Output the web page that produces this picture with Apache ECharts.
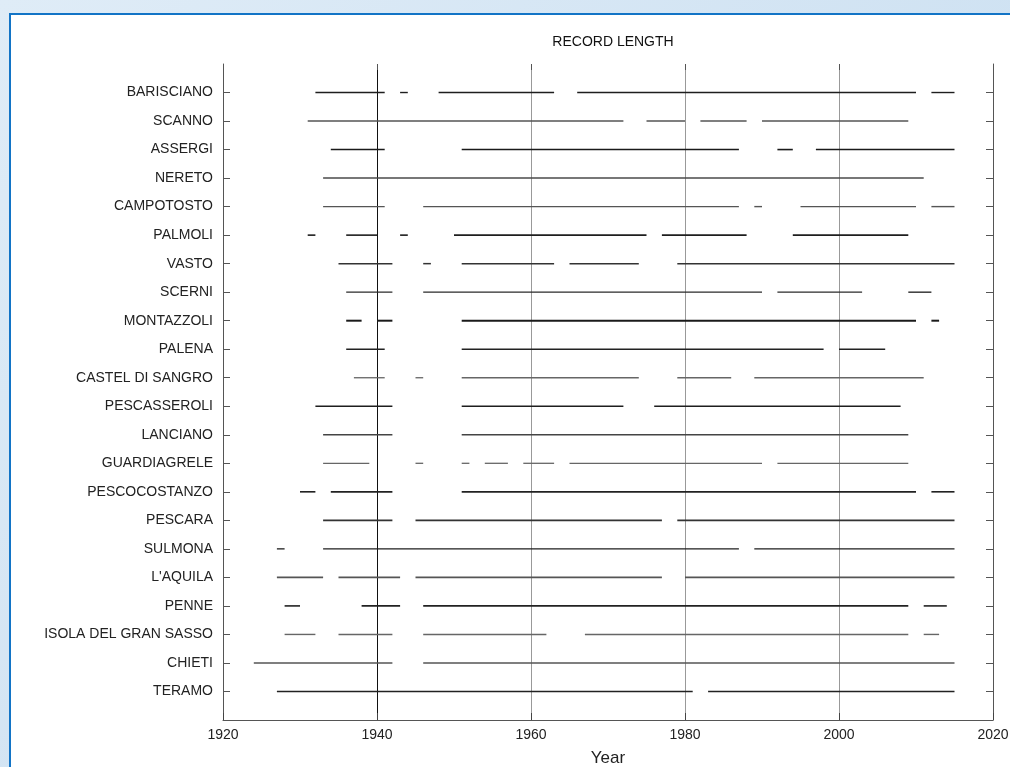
<!DOCTYPE html>
<html>
<head>
<meta charset="utf-8">
<script src="https://cdn.jsdelivr.net/npm/echarts@6/dist/echarts.min.js"></script>
<style>
html,body{margin:0;padding:0;width:1010px;height:767px;overflow:hidden;}
body{background:linear-gradient(135deg,#dfecf7 0%,#c4dbef 100%);}
#frame{position:absolute;left:9px;top:13px;width:1010px;height:800px;background:#fff;border-left:2px solid #1274c6;border-top:2px solid #1274c6;}
#chart{position:absolute;left:0;top:0;width:1010px;height:767px;}
</style>
</head>
<body>
<div id="frame"></div>
<div id="chart"></div>
<script>
// Stations (top to bottom)
const stations = ["BARISCIANO","SCANNO","ASSERGI","NERETO","CAMPOTOSTO","PALMOLI","VASTO","SCERNI","MONTAZZOLI","PALENA","CASTEL DI SANGRO","PESCASSEROLI","LANCIANO","GUARDIAGRELE","PESCOCOSTANZO","PESCARA","SULMONA","L'AQUILA","PENNE","ISOLA DEL GRAN SASSO","CHIETI","TERAMO"];

// Record periods per station [startYear, endYear]
const BARISCIANO = [[1932,1941],[1943,1944],[1948,1963],[1966,2010],[2012,2015]];
const SCANNO = [[1931,1972],[1975,1980],[1982,1988],[1990,2009]];
const ASSERGI = [[1934,1941],[1951,1987],[1992,1994],[1997,2015]];
const NERETO = [[1933,2011]];
const CAMPOTOSTO = [[1933,1941],[1946,1987],[1989,1990],[1995,2010],[2012,2015]];
const PALMOLI = [[1931,1932],[1936,1940],[1943,1944],[1950,1975],[1977,1988],[1994,2009]];
const VASTO = [[1935,1942],[1946,1947],[1951,1963],[1965,1974],[1979,2015]];
const SCERNI = [[1936,1942],[1946,1990],[1992,2003],[2009,2012]];
const MONTAZZOLI = [[1936,1938],[1940,1942],[1951,2010],[2012,2013]];
const PALENA = [[1936,1941],[1951,1998],[2000,2006]];
const CASTEL_DI_SANGRO = [[1937,1941],[1945,1946],[1951,1974],[1979,1986],[1989,2011]];
const PESCASSEROLI = [[1932,1942],[1951,1972],[1976,2008]];
const LANCIANO = [[1933,1942],[1951,2009]];
const GUARDIAGRELE = [[1933,1939],[1945,1946],[1951,1952],[1954,1957],[1959,1963],[1965,1990],[1992,2009]];
const PESCOCOSTANZO = [[1930,1932],[1934,1942],[1951,2010],[2012,2015]];
const PESCARA = [[1933,1942],[1945,1977],[1979,2015]];
const SULMONA = [[1927,1928],[1933,1987],[1989,2015]];
const L_AQUILA = [[1927,1933],[1935,1943],[1945,1977],[1980,2015]];
const PENNE = [[1928,1930],[1938,1943],[1946,2009],[2011,2014]];
const ISOLA_DEL_GRAN_SASSO = [[1928,1932],[1935,1942],[1946,1962],[1967,2009],[2011,2013]];
const CHIETI = [[1924,1942],[1946,2015]];
const TERAMO = [[1927,1981],[1983,2015]];

const periods = [BARISCIANO,SCANNO,ASSERGI,NERETO,CAMPOTOSTO,PALMOLI,VASTO,SCERNI,MONTAZZOLI,PALENA,CASTEL_DI_SANGRO,PESCASSEROLI,LANCIANO,GUARDIAGRELE,PESCOCOSTANZO,PESCARA,SULMONA,L_AQUILA,PENNE,ISOLA_DEL_GRAN_SASSO,CHIETI,TERAMO];

const xTicks = [1920,1940,1960,1980,2000,2020];

// styling (not data)
const rowShade = ['#1e1e1e','#555','#1a1a1a','#4a4a4a','#555','#1e1e1e','#333','#2a2a2a','#1a1a1a','#222','#666','#1e1e1e','#444','#666','#222','#333','#1e1e1e','#555','#222','#666','#555','#222'];
const rowWidth = [1.4,1.5,1.6,1.5,1.4,1.6,1.5,1.4,2,1.5,1.3,1.6,1.5,1.3,1.6,1.6,1.3,1.6,1.6,1.4,1.5,1.6];

const segData = [];
periods.forEach((list, i) => list.forEach(p => segData.push([p[0], p[1], i + 1])));
const rowIdx = stations.map((s, i) => i + 1);

const font = "'Liberation Sans', Arial, Helvetica, sans-serif";
const chart = echarts.init(document.getElementById('chart'), null, {renderer: 'canvas'});
const yCommon = {
  type: 'value', min: 0, max: stations.length + 1, interval: 1, inverse: true,
  axisLine: {show: true, onZero: false, lineStyle: {color: '#555', width: 1}},
  axisTick: {show: true, inside: true, length: 7, customValues: rowIdx, lineStyle: {color: '#555'}},
  splitLine: {show: false}
};
chart.setOption({
  animation: false,
  title: {text: 'RECORD LENGTH', left: 608, top: 30, textAlign: 'center',
    textStyle: {fontFamily: font, fontSize: 14, fontWeight: 'normal', color: '#111'}},
  grid: {left: 223, right: 17, top: 64, bottom: 47, containLabel: false, outerBoundsMode: 'none'},
  xAxis: [{
    type: 'value', min: 1920, max: 2020, interval: 20, position: 'bottom',
    name: 'Year', nameLocation: 'middle', nameGap: 30,
    nameTextStyle: {fontFamily: font, fontSize: 17, color: '#222', padding: [0,0,0,0]},
    axisLine: {show: true, onZero: false, lineStyle: {color: '#555'}},
    axisTick: {show: true, inside: true, length: 7, lineStyle: {color: '#444'}},
    axisLabel: {fontFamily: font, fontSize: 14, color: '#222', margin: 8, formatter: v => xTicks.includes(v) ? String(v) : ''},
    splitLine: {show: true, showMinLine: false, showMaxLine: false, lineStyle: {color: ['#111','#999','#999','#999','#999'], width: 1}}
  }, {
    type: 'value', min: 1920, max: 2020, interval: 20, position: 'top',
    axisLine: {show: false, onZero: false}, axisLabel: {show: false}, splitLine: {show: false},
    axisTick: {show: true, inside: true, length: 6, lineStyle: {color: '#555'}}
  }],
  yAxis: [Object.assign({}, yCommon, {
    position: 'left',
    axisLabel: {fontFamily: font, fontSize: 14, color: '#222', margin: 10, customValues: rowIdx,
      formatter: v => stations[v - 1] || ''}
  }), Object.assign({}, yCommon, {
    position: 'right', axisLabel: {show: false}
  })],
  series: [{
    type: 'custom',
    xAxisIndex: 0, yAxisIndex: 0,
    data: segData,
    encode: {x: [0, 1], y: 2},
    renderItem: function (params, api) {
      const row = api.value(2);
      const a = api.coord([api.value(0), row]);
      const b = api.coord([api.value(1), row]);
      return {
        type: 'line',
        shape: {x1: a[0], y1: a[1], x2: b[0], y2: b[1]},
        style: {stroke: rowShade[row - 1], lineWidth: rowWidth[row - 1]}
      };
    }
  }]
});
</script>
</body>
</html>
